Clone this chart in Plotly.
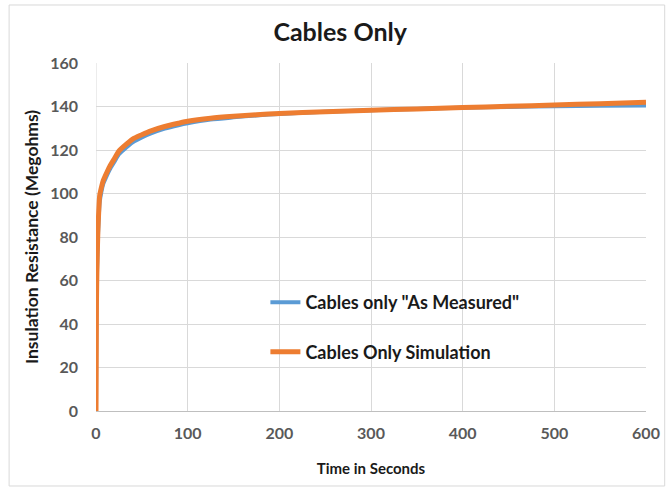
import plotly.graph_objects as go

time_s = [0, 0.5, 1, 2, 3, 4, 6, 8, 10, 15, 20, 25, 30, 40, 50, 60, 75, 90, 100,
          125, 150, 175, 200, 250, 300, 350, 400, 450, 500, 550, 600]
measured = [0, 47, 62, 79, 89, 96, 101, 104.5, 106.5, 111, 114.5, 118, 120, 123.5,
            125.8, 127.6, 129.8, 131.4, 132.3, 134, 135, 135.9, 136.6, 137.6, 138.3,
            138.9, 139.4, 139.8, 140.1, 140.3, 140.5]
simulated = [0, 50, 65, 82, 92, 99, 103, 106, 108, 112.5, 116, 119.5, 121.5, 125,
             127, 128.8, 130.8, 132.3, 133.2, 134.6, 135.5, 136.2, 136.8, 137.6, 138.3,
             138.9, 139.5, 140.1, 140.7, 141.3, 141.9]

x_ticks = [0, 100, 200, 300, 400, 500, 600]
y_ticks = [0, 20, 40, 60, 80, 100, 120, 140, 160]

FONT = "Lato"
fig = go.Figure()
fig.add_trace(go.Scatter(x=time_s, y=measured, mode="lines",
                         name='Cables only "As Measured"', legendgroup="a",
                         line=dict(color="#5B9BD5", width=4, shape="spline", smoothing=0.6)))
fig.add_trace(go.Scatter(x=time_s, y=simulated, mode="lines",
                         name="Cables Only Simulation", legendgroup="b",
                         line=dict(color="#ED7D31", width=5, shape="spline", smoothing=0.6)))

grid = "#d9d9d9"
fig.update_layout(
    width=667, height=488,
    margin=dict(l=96, r=21, t=63, b=77, autoexpand=False),
    paper_bgcolor="white", plot_bgcolor="white",
    title=dict(text="<b>Cables Only</b>", x=0.51, xanchor="center", y=0.934, yanchor="middle",
               font=dict(family=FONT, size=25, color="#1a1a1a")),
    xaxis=dict(range=[0, 600], tickvals=x_ticks, showgrid=True, gridcolor=grid,
               zeroline=False, showline=True, linecolor="#bfbfbf", linewidth=1,
               ticks="", automargin=False, ticklabelstandoff=8,
               tickfont=dict(family=FONT, size=16, color="#595959", weight="bold"),
               title=dict(text="<b>Time in Seconds</b>", standoff=22,
                          font=dict(family=FONT, size=15, color="#1a1a1a"))),
    yaxis=dict(range=[0, 160], tickvals=y_ticks, showgrid=True, gridcolor=grid,
               zeroline=False, showline=False, ticks="", ticklabelstandoff=17,
               automargin=False,
               tickfont=dict(family=FONT, size=16, color="#595959", weight="bold"),
               title=dict(text="<b>Insulation Resistance (Megohms)</b>", standoff=7,
                          font=dict(family=FONT, size=17.5, color="#1a1a1a"))),
    legend=dict(x=0.308, y=0.241, xanchor="left", yanchor="middle", bgcolor="rgba(0,0,0,0)",
                tracegroupgap=23, font=dict(family=FONT, size=18, color="#1a1a1a", weight="bold")),
    showlegend=True,
    shapes=[
        dict(type="rect", xref="paper", yref="paper", x0=0.302, x1=0.816, y0=0.089, y1=0.411,
             fillcolor="white", line=dict(width=0), layer="between"),
        dict(type="rect", xref="paper", yref="paper", x0=-0.158, x1=1.034, y0=-0.2155, y1=1.1667,
             fillcolor="rgba(0,0,0,0)", line=dict(color="#d9d9d9", width=1), layer="below"),
        dict(type="line", xref="x", yref="paper", x0=0, x1=0, y0=0, y1=1,
             line=dict(color=grid, width=1), layer="between"),
    ],
)
fig.write_html("out.html", config={"displayModeBar": False},
               post_script="document.body.style.margin='0';")
